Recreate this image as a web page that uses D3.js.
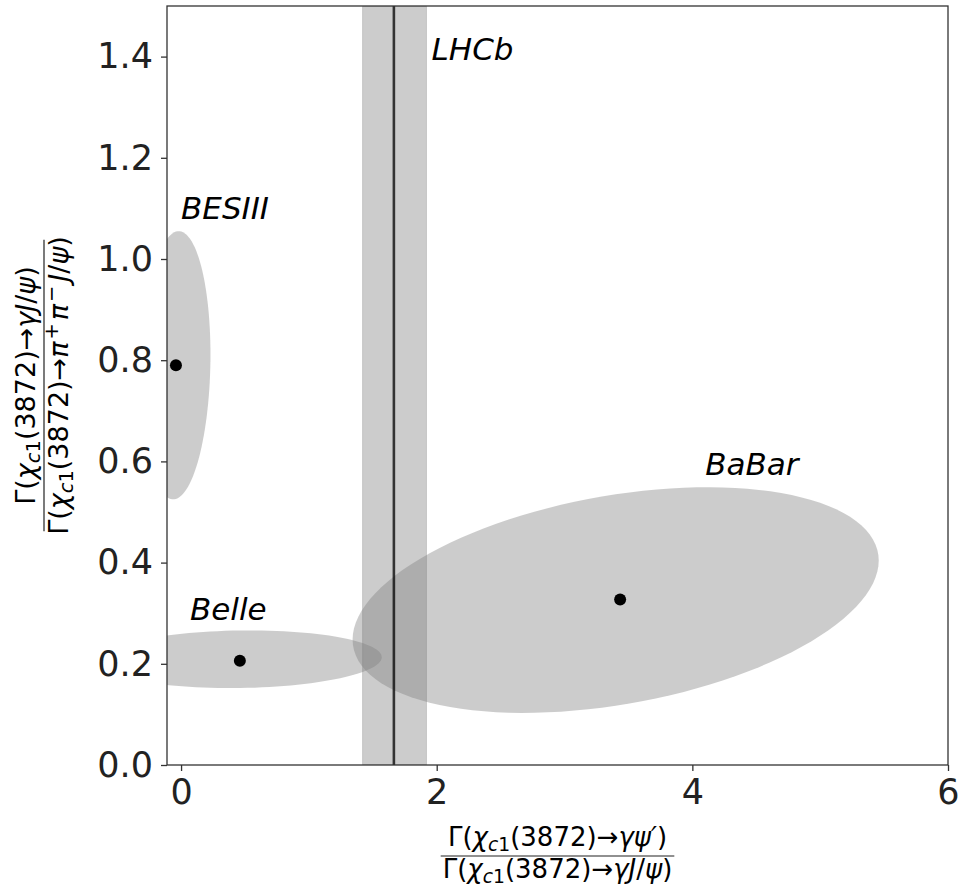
<!DOCTYPE html>
<html>
<head>
<meta charset="utf-8">
<script src="https://cdn.jsdelivr.net/npm/d3@7"></script>
<style>
  body { margin: 0; background: #fff; }
  svg { display: block; }
  text { font-family: "DejaVu Sans", sans-serif; }
</style>
</head>
<body>
<svg id="chart" width="962" height="887"></svg>
<script>
// measurements (central values) and their error ellipses
const experiments = ["BESIII", "Belle", "BaBar"];
const pointX = [-0.04, 0.46, 3.435];
const pointY = [0.79, 0.206, 0.327];
const ellCx  = [-0.04, 0.46, 3.40];
const ellCy  = [0.79, 0.209, 0.326];
const ellRx  = [0.27, 1.11, 2.058];
const ellRy  = [0.265, 0.057, 0.223];
const ellRho = [0.08, 0.07, 0.35];
const labelX = [0.0, 0.07, 4.1];
const labelY = [1.08, 0.287, 0.573];

// LHCb only measures the x ratio -> vertical band
const lhcbValue = 1.665;
const lhcbLow = 1.42;
const lhcbHigh = 1.92;
const lhcbLabel = [1.96, 1.393];

const xTicks = [0, 2, 4, 6];
const yTicks = [0.0, 0.2, 0.4, 0.6, 0.8, 1.0, 1.2, 1.4];

const margin = {top: 6, right: 14, bottom: 122, left: 167};

const svg = d3.select("#chart");
const width = +svg.attr("width") - margin.left - margin.right;
const height = +svg.attr("height") - margin.top - margin.bottom;

const x = d3.scaleLinear().domain([-0.11, 6]).range([0, width]);
const y = d3.scaleLinear().domain([0, 1.5]).range([height, 0]);

const g = svg.append("g").attr("transform", "translate(" + margin.left + "," + margin.top + ")");

g.append("clipPath").attr("id", "clip")
  .append("rect").attr("width", width).attr("height", height);

const plot = g.append("g").attr("clip-path", "url(#clip)");

// ellipse outline from centre, half extents and correlation
function ellipsePoints(i) {
  let pts = [];
  for (let k = 0; k <= 120; k++) {
    let t = 2 * Math.PI * k / 120;
    pts.push([
      ellCx[i] + ellRx[i] * Math.cos(t),
      ellCy[i] + ellRy[i] * (ellRho[i] * Math.cos(t) + Math.sqrt(1 - ellRho[i] * ellRho[i]) * Math.sin(t))
    ]);
  }
  return pts;
}

const line = d3.line()
  .x(function(d) { return x(d[0]); })
  .y(function(d) { return y(d[1]); })
  .curve(d3.curveLinearClosed);

plot.selectAll(".ell")
  .data(experiments)
  .enter().append("path")
    .attr("class", "ell")
    .attr("d", function(d, i) { return line(ellipsePoints(i)); })
    .attr("fill", "#808080")
    .attr("fill-opacity", 0.4);

// LHCb band + central line
plot.append("rect")
  .attr("x", x(lhcbLow))
  .attr("y", 0)
  .attr("width", x(lhcbHigh) - x(lhcbLow))
  .attr("height", height)
  .attr("fill", "#808080")
  .attr("fill-opacity", 0.4)
  .attr("stroke", "#808080")
  .attr("stroke-opacity", 0.3)
  .attr("stroke-width", 1);

plot.append("line")
  .attr("x1", x(lhcbValue)).attr("x2", x(lhcbValue))
  .attr("y1", 0).attr("y2", height)
  .attr("stroke", "#000")
  .attr("stroke-opacity", 0.75)
  .attr("stroke-width", 2.6);

plot.selectAll(".dot")
  .data(experiments)
  .enter().append("circle")
    .attr("class", "dot")
    .attr("cx", function(d, i) { return x(pointX[i]); })
    .attr("cy", function(d, i) { return y(pointY[i]); })
    .attr("r", 6)
    .attr("fill", "#000");

// experiment labels
g.selectAll(".lab")
  .data(experiments)
  .enter().append("text")
    .attr("class", "lab")
    .attr("x", function(d, i) { return x(labelX[i]); })
    .attr("y", function(d, i) { return y(labelY[i]); })
    .attr("font-size", "31px")
    .attr("font-style", "italic")
    .text(function(d) { return d; });

g.append("text")
  .attr("x", x(lhcbLabel[0]))
  .attr("y", y(lhcbLabel[1]))
  .attr("font-size", "31px")
  .attr("font-style", "italic")
  .text("LHCb");

// axes
const xAxis = g.append("g")
  .attr("transform", "translate(0," + height + ")")
  .call(d3.axisBottom(x).tickValues(xTicks).tickFormat(d3.format("d")).tickSize(6).tickPadding(8));

const yAxis = g.append("g")
  .call(d3.axisLeft(y).tickValues(yTicks).tickFormat(d3.format(".1f")).tickSize(6).tickPadding(8));

[xAxis, yAxis].forEach(function(a) {
  a.select(".domain").remove();
  a.selectAll(".tick line").attr("stroke", "#333").attr("stroke-width", 1.3);
  a.selectAll(".tick text").attr("font-size", "35px").attr("fill", "#222")
    .attr("font-family", "DejaVu Sans, sans-serif");
});

g.append("rect")
  .attr("width", width).attr("height", height)
  .attr("fill", "none")
  .attr("stroke", "#333")
  .attr("stroke-width", 1.3);

// mathtext-like fraction labels
function mathText(sel, parts, size) {
  let t = sel.append("text").attr("font-size", size + "px").attr("text-anchor", "middle");
  let shift = 0;
  parts.forEach(function(p) {
    let s = p.sub ? 0.2 * size : (p.sup ? -0.36 * size : 0);
    let ts = t.append("tspan").text(p.t).attr("dy", s - shift);
    shift = s;
    if (p.it) ts.attr("font-style", "italic");
    if (p.sub || p.sup) ts.attr("font-size", (0.72 * size) + "px");
    if (p.sup) ts.attr("dx", 2);
    if (p.after) ts.attr("dx", p.after);
  });
  return t;
}

function fraction(sel, num, den, size, up, down) {
  let top = mathText(sel, num, size).attr("y", -up);
  let bot = mathText(sel, den, size).attr("y", down);
  let w = Math.max(top.node().getComputedTextLength(), bot.node().getComputedTextLength());
  sel.append("line")
    .attr("x1", -w / 2 - 2).attr("x2", w / 2 + 2)
    .attr("y1", 0).attr("y2", 0)
    .attr("stroke", "#222").attr("stroke-width", 1.2);
}

const chiPart = [{t: "Γ("}, {t: "χ", it: true}, {t: "c", it: true, sub: true}, {t: "1", sub: true}, {t: "(3872)→"}];

const xNum = chiPart.concat([{t: "γψ′", it: true}, {t: ")"}]);
const xDen = chiPart.concat([{t: "γJ", it: true}, {t: "/"}, {t: "ψ", it: true}, {t: ")"}]);
const yNum = xDen;
const yDen = chiPart.concat([{t: "π", it: true}, {t: "+", sup: true}, {t: "π", it: true, after: 3}, {t: "−", sup: true}, {t: "J", it: true, after: 4}, {t: "/"}, {t: "ψ", it: true}, {t: ")"}]);

const xl = svg.append("g").attr("transform", "translate(" + (margin.left + width / 2) + ",856)");
fraction(xl, xNum, xDen, 26, 10, 22);

const yl = svg.append("g").attr("transform", "translate(44," + (margin.top + height / 2) + ") rotate(-90)");
fraction(yl, yNum, yDen, 27, 9, 24);
</script>
</body>
</html>
